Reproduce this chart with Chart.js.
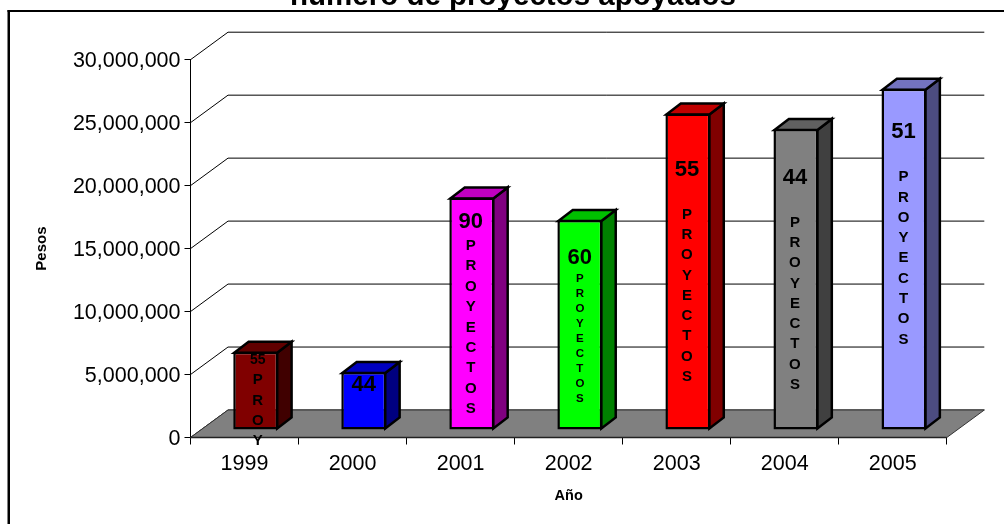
<!DOCTYPE html>
<html>
<head>
<meta charset="utf-8">
<title>Proyectos apoyados</title>
<style>
  html, body { margin: 0; padding: 0; background: #fff; overflow: hidden; }
  canvas { display: block; }
</style>
</head>
<body>
<canvas id="barChart" width="1004" height="524"></canvas>
<script src="https://cdn.jsdelivr.net/npm/chart.js@4/dist/chart.umd.js"></script>
<script>
var years = ["1999", "2000", "2001", "2002", "2003", "2004", "2005"];
var pesos = [6210000, 4600000, 18470000, 16670000, 25130000, 23910000, 27090000];
var projectCounts = ["55", "44", "90", "60", "55", "44", "51"];
var barWords = ["PROY", "", "PROYECTOS", "PROYECTOS", "PROYECTOS", "PROYECTOS", "PROYECTOS"];
var yTicks = [0, 5000000, 10000000, 15000000, 20000000, 25000000, 30000000];

var frontColors = ["#800000", "#0000ff", "#ff00ff", "#00ff00", "#ff0000", "#808080", "#9999ff"];
var sideColors = ["#400000", "#000080", "#800080", "#008000", "#800000", "#404040", "#4c4c80"];
var topColors = ["#600000", "#0000c0", "#c000c0", "#00c000", "#c00000", "#606060", "#7373c0"];

// text placement inside each bar, measured down from the top of the bar
var countOffset = [8.3, 13, 24.4, 37.7, 56.7, 48.6, 43];
var countSize = [14, 22, 22, 22, 22, 22, 22];
var wordOffset = [28.3, 0, 48.4, 58.3, 101, 93.6, 88.3];
var wordStep = [20.3, 0, 20.4, 15, 20.3, 20.3, 20.3];
var wordSize = [15, 0, 15, 11.5, 15, 15, 15];
var textShift = [2, 0, -1, 0, -1, -1, -0.5];

var FONT = "'Liberation Sans', Arial, sans-serif";
var WALL_X = 37.5, WALL_Y = 27.5;   // depth of the floor
var BAR_X = 14.4, BAR_Y = 11;       // depth of a bar
var SHIFT_X = 11.2, SHIFT_Y = -7.5; // bars stand inside the floor, not on its front edge
var EDGE = 2.5;

function poly(ctx, pts, fill, stroke, width) {
    ctx.beginPath();
    ctx.moveTo(pts[0][0], pts[0][1]);
    for (var i = 1; i < pts.length; i++) ctx.lineTo(pts[i][0], pts[i][1]);
    ctx.closePath();
    if (fill) { ctx.fillStyle = fill; ctx.fill(); }
    if (stroke) { ctx.strokeStyle = stroke; ctx.lineWidth = width; ctx.stroke(); }
}

var box3d = {
    id: "box3d",
    afterLayout: function (chart) {
        // title is centred on the whole frame, not on the plot
        chart.titleBlock.left += 34.6;
        chart.titleBlock.right += 34.6;
    },
    beforeDraw: function (chart) {
        // frame only on the left and top
        var ctx = chart.ctx;
        ctx.save();
        ctx.fillStyle = "#000";
        ctx.fillRect(7.5, 10, 1004, 2);
        ctx.fillRect(7.5, 10, 2.5, 524);
        ctx.restore();
    },
    beforeDatasetsDraw: function (chart) {
        var ctx = chart.ctx, a = chart.chartArea, y = chart.scales.y;
        ctx.save();
        // back wall lines with their slanted run back from the axis
        yTicks.forEach(function (v) {
            var py = y.getPixelForValue(v);
            ctx.strokeStyle = "#000";
            ctx.lineWidth = 1;
            ctx.beginPath();
            ctx.moveTo(a.left, py);
            ctx.lineTo(a.left + WALL_X, py - WALL_Y);
            ctx.lineTo(a.right + WALL_X, py - WALL_Y);
            ctx.stroke();
        });
        // floor
        var b = y.getPixelForValue(0);
        poly(ctx, [[a.left, b], [a.left + WALL_X, b - WALL_Y], [a.right + WALL_X, b - WALL_Y], [a.right, b]], "#808080", "#333", 1);
        ctx.strokeStyle = "#222";
        ctx.lineWidth = 1.5;
        ctx.beginPath();
        ctx.moveTo(a.left, b);
        ctx.lineTo(a.right, b);
        ctx.stroke();
        ctx.restore();
    },
    beforeDatasetDraw: function (chart, args) {
        var ctx = chart.ctx, bars = chart.getDatasetMeta(args.index).data;
        ctx.save();
        ctx.translate(SHIFT_X, SHIFT_Y);
        ctx.lineJoin = "miter";
        // side and top faces, the front face comes from the library
        bars.forEach(function (bar, i) {
            var l = bar.x - bar.width / 2 + 1, r = bar.x + bar.width / 2 - 1;
            var t = bar.y + 1, b = bar.base - 1;
            poly(ctx, [[r, t], [r + BAR_X, t - BAR_Y], [r + BAR_X, b - BAR_Y], [r, b]], sideColors[i], "#000", EDGE);
            poly(ctx, [[l, t], [l + BAR_X, t - BAR_Y], [r + BAR_X, t - BAR_Y], [r, t]], topColors[i], "#000", EDGE);
        });
    },
    afterDatasetDraw: function (chart) {
        chart.ctx.restore();
    },
    afterDatasetsDraw: function (chart) {
        var ctx = chart.ctx, bars = chart.getDatasetMeta(0).data;
        ctx.save();
        ctx.fillStyle = "#000";
        ctx.textAlign = "center";
        ctx.textBaseline = "middle";
        bars.forEach(function (bar, i) {
            var cx = bar.x + SHIFT_X + textShift[i];
            var top = bar.y + SHIFT_Y;
            ctx.font = "bold " + countSize[i] + "px " + FONT;
            ctx.fillText(projectCounts[i], cx, top + countOffset[i]);
            if (barWords[i]) {
                ctx.font = "bold " + wordSize[i] + "px " + FONT;
                barWords[i].split("").forEach(function (letter, k) {
                    ctx.fillText(letter, cx, top + wordOffset[i] + k * wordStep[i]);
                });
            }
        });
        ctx.restore();
    }
};

var ctx = document.getElementById("barChart");
var barChart = new Chart(ctx, {
    type: "bar",
    plugins: [box3d],
    data: {
        labels: years,
        datasets: [{
            label: "Pesos",
            data: pesos,
            backgroundColor: frontColors,
            borderColor: "#000",
            borderWidth: EDGE,
            borderSkipped: false,
            barPercentage: 1,
            categoryPercentage: 0.416,
            clip: false
        }]
    },
    options: {
        responsive: false,
        animation: false,
        layout: { padding: { left: 10, right: 57.2, top: 59.7, bottom: 10 } },
        plugins: {
            legend: { display: false },
            tooltip: { enabled: false },
            title: {
                display: true,
                text: "número de proyectos apoyados",
                color: "#000",
                font: { family: FONT, size: 29.5, weight: "bold" },
                padding: { top: -81, bottom: 45.6 }
            }
        },
        scales: {
            x: {
                afterFit: function (scale) { scale.height = 76.5; },
                grid: { drawOnChartArea: false, color: "#000", tickLength: 7 },
                border: { color: "#000" },
                ticks: { color: "#000", padding: 7, maxRotation: 0, font: { family: FONT, size: 21.5 } },
                title: {
                    display: true,
                    text: "Año",
                    color: "#000",
                    font: { family: FONT, size: 14.5, weight: "bold" },
                    padding: { top: 0, bottom: 9 }
                }
            },
            y: {
                min: 0,
                max: 30000000,
                afterFit: function (scale) { scale.width = 180.5; },
                afterBuildTicks: function (scale) {
                    scale.ticks = yTicks.map(function (v) { return { value: v }; });
                },
                grid: { drawOnChartArea: false, color: "#000", tickLength: 6 },
                border: { color: "#000" },
                ticks: {
                    color: "#000",
                    padding: 4,
                    labelOffset: 1.5,
                    font: { family: FONT, size: 21.5 },
                    callback: function (value) { return value.toLocaleString("en-US"); }
                },
                title: {
                    display: true,
                    text: "Pesos",
                    color: "#000",
                    font: { family: FONT, size: 15, weight: "bold" },
                    padding: { top: 23, bottom: 0 }
                }
            }
        }
    }
});
</script>
</body>
</html>
